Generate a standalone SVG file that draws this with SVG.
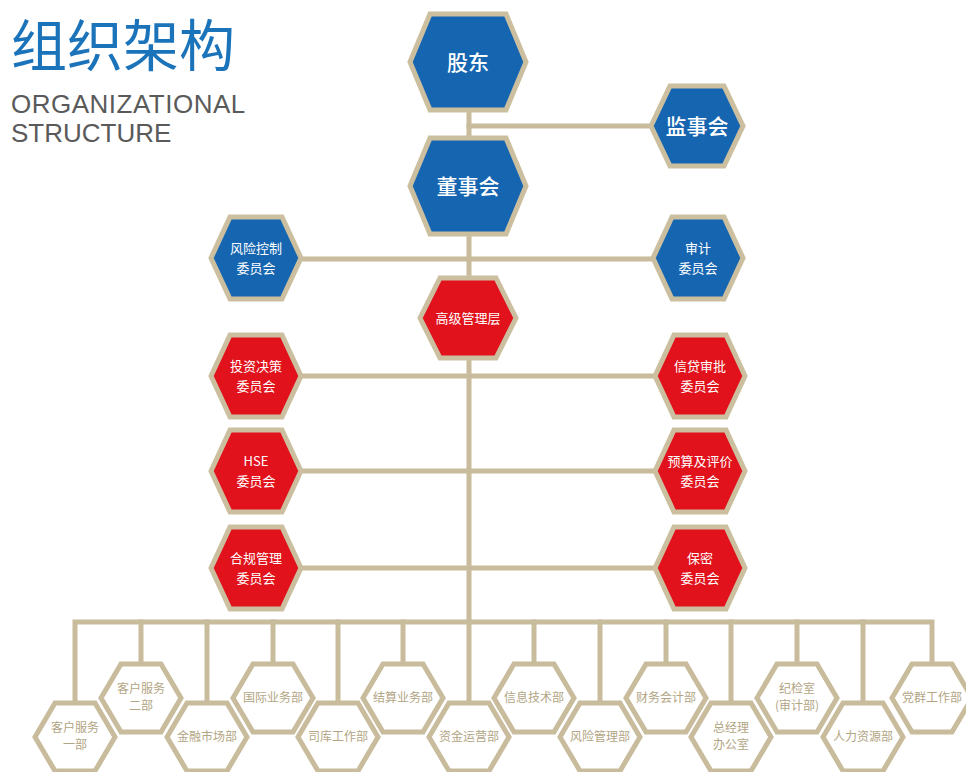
<svg xmlns="http://www.w3.org/2000/svg" xmlns:xlink="http://www.w3.org/1999/xlink" width="966" height="772" viewBox="0 0 966 772">
<style>
.conn{stroke:#c8bc9c;stroke-width:5;fill:none;stroke-linecap:square}
.blue{fill:#1565b0;stroke:#cbbf9f;stroke-width:5;stroke-linejoin:miter}
.red{fill:#e1121c;stroke:#cbbf9f;stroke-width:5;stroke-linejoin:miter}
.dept{fill:#ffffff;stroke:#c8bc9c;stroke-width:5;stroke-linejoin:miter}
.cjk{font-family:"Noto Sans CJK SC","Noto Sans",sans-serif;text-anchor:middle}
.big{font-size:21px;fill:#ffffff;font-weight:500}
.mid{font-size:13px;fill:#ffffff}
.small{font-size:12px;fill:#b2a584}
</style>
<defs>
<polygon id="hexTop" points="-58,0 -38,-48 38,-48 58,0 38,48 -38,48"/>
<polygon id="hexJ" points="-46,0 -27,-40 27,-40 46,0 27,40 -27,40"/>
<polygon id="hexM" points="-45,0 -26,-41 26,-41 45,0 26,41 -26,41"/>
<polygon id="hexG" points="-48,0 -28,-40 28,-40 48,0 28,40 -28,40"/>
<polygon id="hexB" points="-40,0 -20,-34 20,-34 40,0 20,34 -20,34"/>
</defs>
<rect x="0" y="0" width="966" height="772" fill="#ffffff"/>
<g id="title">
<text x="11" y="66" font-family="'Noto Sans CJK SC',sans-serif" font-size="56" fill="#1b73ba">组织架构</text>
<text x="11" y="113" font-family="'Liberation Sans',Arial,sans-serif" font-size="26" fill="#5a5a5a" letter-spacing="0.5">ORGANIZATIONAL</text>
<text x="11" y="142" font-family="'Liberation Sans',Arial,sans-serif" font-size="26" fill="#5a5a5a">STRUCTURE</text>
</g>
<g id="connectors">
<path class="conn" d="M469,110 V622"/>
<path class="conn" d="M469,126 H652"/>
<path class="conn" d="M300,259 H656"/>
<path class="conn" d="M300,376 H656"/>
<path class="conn" d="M300,471 H656"/>
<path class="conn" d="M300,568 H656"/>
<path class="conn" d="M75,703 V622 H932 V664"/>
<path class="conn" d="M141,622 V664"/>
<path class="conn" d="M207,622 V703"/>
<path class="conn" d="M273,622 V664"/>
<path class="conn" d="M338,622 V703"/>
<path class="conn" d="M403,622 V664"/>
<path class="conn" d="M469,622 V703"/>
<path class="conn" d="M534,622 V664"/>
<path class="conn" d="M600,622 V703"/>
<path class="conn" d="M666,622 V664"/>
<path class="conn" d="M731,622 V703"/>
<path class="conn" d="M797,622 V664"/>
<path class="conn" d="M863,622 V703"/>
</g>
<g id="n-gudong"><use xlink:href="#hexTop" x="468" y="62" class="blue"/><text class="cjk big" x="468" y="70">股东</text></g>
<g id="n-jianshihui"><use xlink:href="#hexJ" x="697" y="126" class="blue"/><text class="cjk big" x="697" y="134">监事会</text></g>
<g id="n-dongshihui"><use xlink:href="#hexTop" x="468" y="186" class="blue"/><text class="cjk big" x="468" y="194">董事会</text></g>
<g id="n-fengxian"><use xlink:href="#hexM" x="256" y="258" class="blue"/><text class="cjk mid" x="256" y="253">风险控制</text><text class="cjk mid" x="256" y="273">委员会</text></g>
<g id="n-shenji"><use xlink:href="#hexM" x="698" y="258" class="blue"/><text class="cjk mid" x="698" y="253">审计</text><text class="cjk mid" x="698" y="273">委员会</text></g>
<g id="n-gaoji"><use xlink:href="#hexG" x="468" y="318" class="red"/><text class="cjk mid" x="468" y="323">高级管理层</text></g>
<g id="n-touzi"><use xlink:href="#hexM" x="256" y="376" class="red"/><text class="cjk mid" x="256" y="371">投资决策</text><text class="cjk mid" x="256" y="391">委员会</text></g>
<g id="n-xindai"><use xlink:href="#hexM" x="700" y="376" class="red"/><text class="cjk mid" x="700" y="371">信贷审批</text><text class="cjk mid" x="700" y="391">委员会</text></g>
<g id="n-hse"><use xlink:href="#hexM" x="256" y="471" class="red"/><text class="cjk mid" x="256" y="466">HSE</text><text class="cjk mid" x="256" y="486">委员会</text></g>
<g id="n-yusuan"><use xlink:href="#hexM" x="700" y="471" class="red"/><text class="cjk mid" x="700" y="466">预算及评价</text><text class="cjk mid" x="700" y="486">委员会</text></g>
<g id="n-hegui"><use xlink:href="#hexM" x="256" y="568" class="red"/><text class="cjk mid" x="256" y="563">合规管理</text><text class="cjk mid" x="256" y="583">委员会</text></g>
<g id="n-baomi"><use xlink:href="#hexM" x="700" y="568" class="red"/><text class="cjk mid" x="700" y="563">保密</text><text class="cjk mid" x="700" y="583">委员会</text></g>
<g id="d-kehu1"><use xlink:href="#hexB" x="75" y="737" class="dept"/><text class="cjk small" x="75" y="732">客户服务</text><text class="cjk small" x="75" y="749">一部</text></g>
<g id="d-kehu2"><use xlink:href="#hexB" x="141" y="698" class="dept"/><text class="cjk small" x="141" y="693">客户服务</text><text class="cjk small" x="141" y="710">二部</text></g>
<g id="d-jinrong"><use xlink:href="#hexB" x="207" y="737" class="dept"/><text class="cjk small" x="207" y="741">金融市场部</text></g>
<g id="d-guoji"><use xlink:href="#hexB" x="273" y="698" class="dept"/><text class="cjk small" x="273" y="702">国际业务部</text></g>
<g id="d-siku"><use xlink:href="#hexB" x="338" y="737" class="dept"/><text class="cjk small" x="338" y="741">司库工作部</text></g>
<g id="d-jiesuan"><use xlink:href="#hexB" x="403" y="698" class="dept"/><text class="cjk small" x="403" y="702">结算业务部</text></g>
<g id="d-zijin"><use xlink:href="#hexB" x="469" y="737" class="dept"/><text class="cjk small" x="469" y="741">资金运营部</text></g>
<g id="d-xinxi"><use xlink:href="#hexB" x="534" y="698" class="dept"/><text class="cjk small" x="534" y="702">信息技术部</text></g>
<g id="d-fengxian"><use xlink:href="#hexB" x="600" y="737" class="dept"/><text class="cjk small" x="600" y="741">风险管理部</text></g>
<g id="d-caiwu"><use xlink:href="#hexB" x="666" y="698" class="dept"/><text class="cjk small" x="666" y="702">财务会计部</text></g>
<g id="d-zongjingli"><use xlink:href="#hexB" x="731" y="737" class="dept"/><text class="cjk small" x="731" y="732">总经理</text><text class="cjk small" x="731" y="749">办公室</text></g>
<g id="d-jijian"><use xlink:href="#hexB" x="797" y="698" class="dept"/><text class="cjk small" x="797" y="693">纪检室</text><text class="cjk small" x="797" y="710">(审计部)</text></g>
<g id="d-renli"><use xlink:href="#hexB" x="863" y="737" class="dept"/><text class="cjk small" x="863" y="741">人力资源部</text></g>
<g id="d-dangqun"><use xlink:href="#hexB" x="932" y="698" class="dept"/><text class="cjk small" x="932" y="702">党群工作部</text></g>
</svg>
